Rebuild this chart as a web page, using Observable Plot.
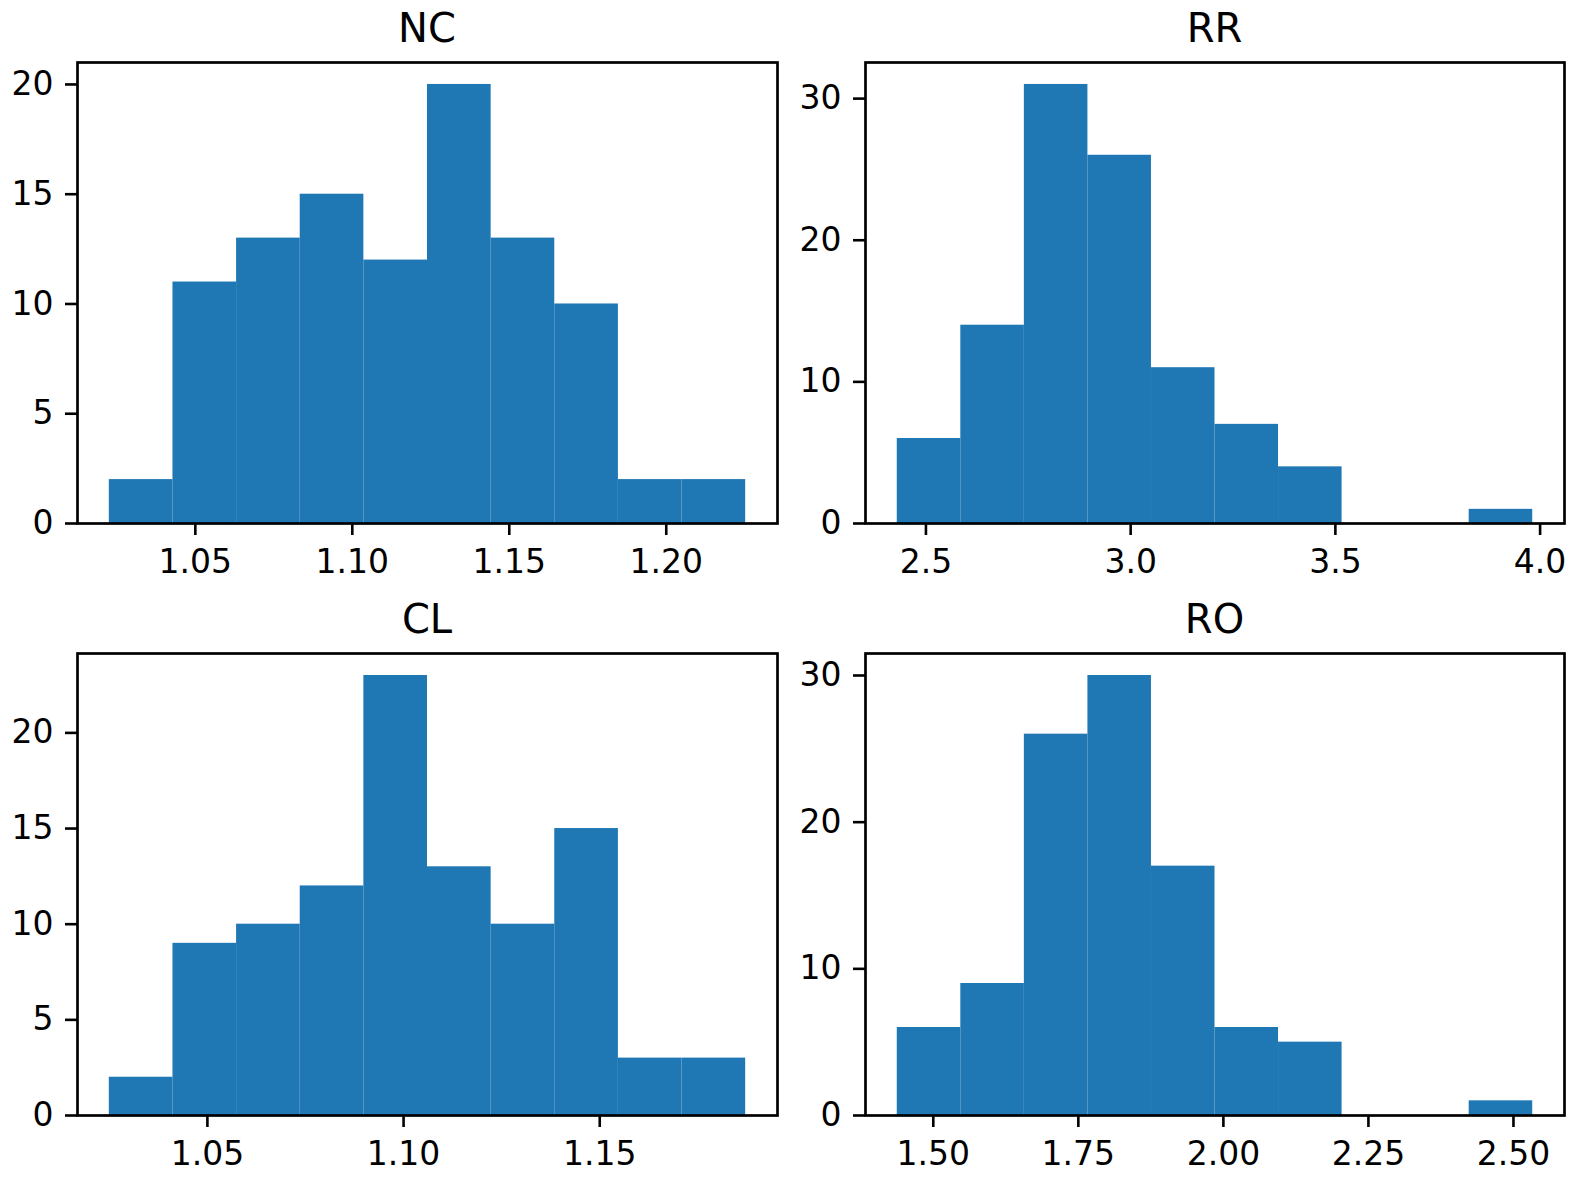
<!DOCTYPE html>
<html><head><meta charset="utf-8">
<script src="https://cdn.jsdelivr.net/npm/d3@7"></script>
<script src="https://cdn.jsdelivr.net/npm/@observablehq/plot@0.6"></script>
<style>
body{margin:0;background:#fff;font-family:"DejaVu Sans",sans-serif;}
#wrap{position:relative;width:1577px;height:1183px;overflow:hidden;}
.panel{position:absolute;}
.title{position:absolute;font-size:40px;line-height:40px;text-align:center;color:#000;font-family:"DejaVu Sans",sans-serif;}
</style></head><body><div id="wrap"></div>
<script>
// ---- data ----
const titles = ["NC", "RR", "CL", "RO"];

const ncCounts = [2, 11, 13, 15, 12, 20, 13, 10, 2, 2];
const ncRange = [1.0226, 1.2253];
const ncXTicks = [1.05, 1.10, 1.15, 1.20];
const ncYTicks = [0, 5, 10, 15, 20];

const rrCounts = [6, 14, 31, 26, 11, 7, 4, 0, 0, 1];
const rrRange = [2.430, 3.982];
const rrXTicks = [2.5, 3.0, 3.5, 4.0];
const rrYTicks = [0, 10, 20, 30];

const clCounts = [2, 9, 10, 12, 23, 13, 10, 15, 3, 3];
const clRange = [1.0250, 1.1872];
const clXTicks = [1.05, 1.10, 1.15];
const clYTicks = [0, 5, 10, 15, 20];

const roCounts = [6, 9, 26, 30, 17, 6, 5, 0, 0, 1];
const roRange = [1.4379, 2.5332];
const roXTicks = [1.50, 1.75, 2.00, 2.25, 2.50];
const roYTicks = [0, 10, 20, 30];

// ---- drawing ----
const wrap = document.getElementById("wrap");
const BLUE = "#1f77b4";

function panel(title, counts, range, xticks, yticks, fmt, box) {
  const [lo, hi] = range;
  const n = counts.length;
  const step = (hi - lo) / n;
  const bins = counts.map((c, i) => ({x1: lo + i * step, x2: lo + (i + 1) * step, y0: 0, y: c}));
  const pad = (hi - lo) * 0.05;
  const ymax = d3.max(counts) * 1.05;
  const svg = Plot.plot({
    width: box.w, height: box.h,
    marginLeft: box.ml, marginTop: box.mt, marginRight: box.mr, marginBottom: box.mb,
    style: {fontFamily: "DejaVu Sans", fontSize: "33px", color: "black", background: "white", overflow: "visible"},
    x: {domain: [lo - pad, hi + pad]},
    y: {domain: [0, ymax]},
    marks: [
      Plot.rect(bins, {x1: "x1", x2: "x2", y1: "y0", y2: "y", fill: BLUE, inset: 0}),
      Plot.axisX({ticks: xticks, tickFormat: d3.format(fmt), tickSize: 12, tickPadding: 14, strokeWidth: 2.6, label: null, fill: "black", fontSize: 33}),
      Plot.axisY({ticks: yticks, tickFormat: d3.format("d"), tickSize: 12, tickPadding: 12, strokeWidth: 2.6, label: null, fill: "black", fontSize: 33}),
      Plot.frame({stroke: "black", strokeWidth: 2.7})
    ]
  });
  svg.classList.add("panel");
  svg.style.left = box.left + "px";
  svg.style.top = box.top + "px";
  wrap.appendChild(svg);
  const t = document.createElement("div");
  t.className = "title";
  t.textContent = title;
  const innerW = box.w - box.ml - box.mr;
  t.style.left = (box.left + box.ml) + "px";
  t.style.width = innerW + "px";
  t.style.top = (box.top + box.mt - 54) + "px";
  wrap.appendChild(t);
}

const topBox = {top: 0, h: 583, mt: 62, mb: 60};
const botBox = {top: 583, h: 600, mt: 70, mb: 68};
const leftBox = {left: 0, w: 788, ml: 77, mr: 11};
const rightBox = {left: 788, w: 789, ml: 77, mr: 13};

panel(titles[0], ncCounts, ncRange, ncXTicks, ncYTicks, ".2f", {...topBox, ...leftBox});
panel(titles[1], rrCounts, rrRange, rrXTicks, rrYTicks, ".1f", {...topBox, ...rightBox});
panel(titles[2], clCounts, clRange, clXTicks, clYTicks, ".2f", {...botBox, ...leftBox});
panel(titles[3], roCounts, roRange, roXTicks, roYTicks, ".2f", {...botBox, ...rightBox});
</script>
</body></html>
